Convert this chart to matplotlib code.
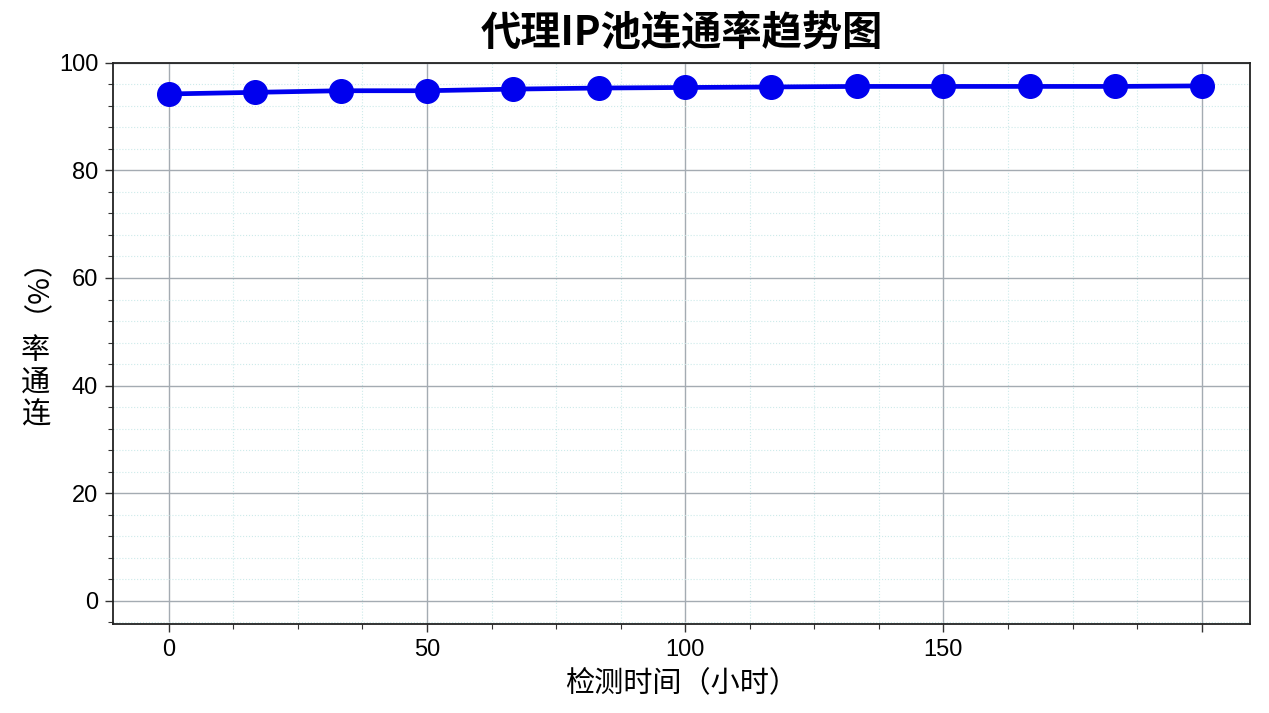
import matplotlib
matplotlib.use("Agg")
import matplotlib.pyplot as plt
from matplotlib.ticker import AutoMinorLocator

plt.rcParams['font.family'] = ['Noto Sans CJK SC', 'DejaVu Sans']

# --------------------------------------------------------
# Data
# --------------------------------------------------------
hours = [0, 16.7, 33.3, 50, 66.7, 83.3, 100, 116.7, 133.3, 150, 166.7, 183.3, 200]
rate = [94.2, 94.5, 94.8, 94.8, 95.1, 95.3, 95.4, 95.5, 95.6, 95.6, 95.6, 95.6, 95.7]

x_ticks = [0, 50, 100, 150, 200]
x_tick_labels = ['0', '50', '100', '150', '']
y_ticks = [0, 20, 40, 60, 80, 100]

title = '代理IP池连通率趋势图'
x_label = '检测时间（小时）'
y_label_chars = '率\n通\n连'
y_label_unit = '（%）'

# --------------------------------------------------------
# Plot
# --------------------------------------------------------
fig = plt.figure(figsize=(12.69, 7.13), dpi=100)
ax = fig.add_axes([0.0894, 0.1248, 0.8954, 0.7872])

ax.plot(hours, rate, color='#0000ee', linewidth=3.4, marker='o',
        markersize=17, zorder=3)

ax.set_xlim(-10.7, 209.3)
ax.set_ylim(-4.3, 100)
ax.set_xticks(x_ticks)
ax.set_xticklabels(x_tick_labels)
ax.set_yticks(y_ticks)
ax.xaxis.set_minor_locator(AutoMinorLocator(4))
ax.yaxis.set_minor_locator(AutoMinorLocator(5))

ax.grid(which='major', color='#a4abb2', linewidth=1.0, linestyle='-')
ax.grid(which='minor', color='#cdeaea', linewidth=0.8, linestyle=':')
ax.set_axisbelow(True)

for lbl in ax.get_xticklabels() + ax.get_yticklabels():
    lbl.set_fontfamily('Liberation Sans')
    lbl.set_fontsize(17)
ax.tick_params(which='major', length=6, width=1.0, color='#333333', pad=5)
ax.tick_params(which='minor', length=3.5, width=0.8, color='#333333')
for sp in ax.spines.values():
    sp.set_linewidth(1.3)
    sp.set_color('#222222')

ax.set_xlabel(x_label, fontsize=21, labelpad=6)

# vertical y label: upright characters stacked, unit rotated above
fig.text(0.028, 0.462, y_label_chars, fontsize=21, ha='center', va='center',
         linespacing=1.1)
fig.text(0.017, 0.622, y_label_unit, fontsize=21, ha='center', va='center',
         rotation=90)

fig.text(0.537, 0.953, title, fontsize=29, fontweight='bold',
         ha='center', va='center')

fig.savefig('out.png', dpi=100)
